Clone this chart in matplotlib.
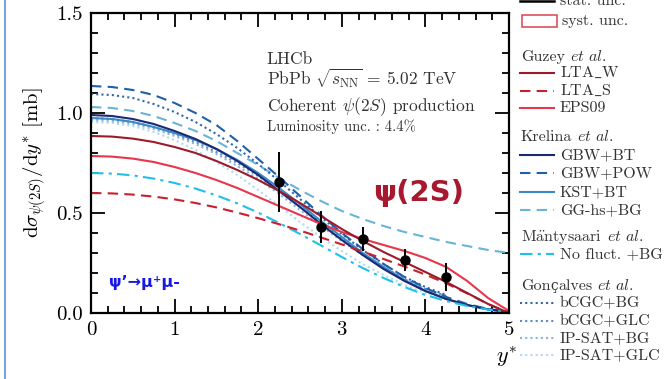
import numpy as np
import matplotlib
matplotlib.use("Agg")
import matplotlib.pyplot as plt
from matplotlib.ticker import FixedLocator, FixedFormatter, MultipleLocator
from matplotlib.patches import Rectangle
from matplotlib.lines import Line2D

plt.rcParams['font.family'] = ['cmr10', 'DejaVu Serif']
plt.rcParams['mathtext.fontset'] = 'cm'
plt.rcParams['axes.formatter.use_mathtext'] = True

# ---------------- data ----------------
y_grid = [0.0, 0.25, 0.5, 0.75, 1.0, 1.25, 1.5, 1.75, 2.0, 2.25, 2.5, 2.75,
          3.0, 3.25, 3.5, 3.75, 4.0, 4.25, 4.5, 4.75, 5.0]
y_gon = y_grid[:18]

lta_w = [0.885, 0.882, 0.872, 0.855, 0.83, 0.80, 0.76, 0.715, 0.665, 0.61, 0.55, 0.485,
         0.42, 0.36, 0.305, 0.255, 0.205, 0.155, 0.10, 0.045, 0.0]
lta_s = [0.60, 0.598, 0.592, 0.582, 0.568, 0.55, 0.528, 0.502, 0.474, 0.444, 0.412, 0.378,
         0.343, 0.307, 0.27, 0.232, 0.192, 0.148, 0.098, 0.045, 0.0]
eps09 = [0.785, 0.782, 0.772, 0.755, 0.73, 0.70, 0.665, 0.625, 0.58, 0.535, 0.49, 0.445,
         0.405, 0.37, 0.34, 0.31, 0.275, 0.23, 0.16, 0.075, 0.01]
gbw_bt = [0.99, 0.985, 0.97, 0.945, 0.91, 0.87, 0.82, 0.76, 0.69, 0.61, 0.53, 0.445,
          0.365, 0.29, 0.22, 0.16, 0.11, 0.07, 0.04, 0.018, 0.005]
gbw_pow = [1.135, 1.13, 1.115, 1.09, 1.05, 1.0, 0.94, 0.86, 0.77, 0.68, 0.585, 0.49,
           0.40, 0.32, 0.245, 0.18, 0.125, 0.08, 0.045, 0.02, 0.005]
kst_bt = [0.975, 0.97, 0.955, 0.93, 0.90, 0.865, 0.82, 0.765, 0.70, 0.625, 0.545, 0.46,
          0.38, 0.30, 0.23, 0.165, 0.11, 0.07, 0.04, 0.018, 0.005]
gghs_bg = [1.03, 1.025, 1.01, 0.985, 0.95, 0.91, 0.86, 0.80, 0.74, 0.675, 0.615, 0.56,
           0.51, 0.47, 0.435, 0.405, 0.38, 0.355, 0.335, 0.315, 0.30]
nofluct = [0.70, 0.697, 0.688, 0.672, 0.65, 0.622, 0.588, 0.548, 0.502, 0.45, 0.395, 0.338,
           0.28, 0.225, 0.175, 0.13, 0.09, 0.06, 0.035, 0.017, 0.005]
bcgc_bg = [1.095, 1.09, 1.075, 1.045, 1.005, 0.955, 0.895, 0.825, 0.745, 0.66, 0.57, 0.48,
           0.395, 0.315, 0.245, 0.18, 0.13, 0.09]
bcgc_glc = [0.975, 0.97, 0.955, 0.93, 0.895, 0.855, 0.805, 0.75, 0.685, 0.61, 0.53, 0.45,
            0.37, 0.295, 0.23, 0.17, 0.12, 0.085]
ipsat_bg = [0.965, 0.96, 0.945, 0.92, 0.885, 0.845, 0.795, 0.735, 0.67, 0.595, 0.515, 0.435,
            0.36, 0.29, 0.225, 0.165, 0.12, 0.085]
ipsat_glc = [0.955, 0.95, 0.935, 0.905, 0.865, 0.815, 0.755, 0.69, 0.615, 0.535, 0.455, 0.38,
             0.31, 0.245, 0.19, 0.14, 0.10, 0.07]

data_y = [2.25, 2.75, 3.25, 3.75, 4.25]
data_val = [0.655, 0.43, 0.37, 0.265, 0.18]
data_err = [0.15, 0.08, 0.06, 0.055, 0.07]

x_ticks = [0, 1, 2, 3, 4, 5]
x_ticklabels = ['0', '1', '2', '3', '4', '5']
y_ticks = [0.0, 0.5, 1.0, 1.5]
y_ticklabels = ['0.0', '0.5', '1.0', '1.5']

# ---------------- styles ----------------
C_LTAW = '#9b1b2a'
C_LTAS = '#c8202e'
C_EPS = '#e8364a'
C_GBWBT = '#1b2a72'
C_GBWPOW = '#2060a8'
C_KST = '#3a88c8'
C_GGHS = '#6ab4d8'
C_NOFL = '#20c0e8'
C_G1 = '#3565aa'
C_G2 = '#5a8cc8'
C_G3 = '#86b6e2'
C_G4 = '#b0daf0'

W, H = 664, 379
fig = plt.figure(figsize=(W / 100, H / 100), dpi=100)
ax = fig.add_axes([91 / W, 66 / H, 418 / W, 300 / H])

lw = 1.5
series = [
    (y_grid, gghs_bg, C_GGHS, (0, (5, 3))),
    (y_gon, ipsat_glc, C_G4, (0, (1, 1.5))),
    (y_gon, ipsat_bg, C_G3, (0, (1, 1.5))),
    (y_gon, bcgc_glc, C_G2, (0, (1, 1.5))),
    (y_gon, bcgc_bg, C_G1, (0, (1, 1.5))),
    (y_grid, gbw_pow, C_GBWPOW, (0, (5, 3))),
    (y_grid, kst_bt, C_KST, '-'),
    (y_grid, gbw_bt, C_GBWBT, '-'),
    (y_grid, nofluct, C_NOFL, (0, (6, 2.5, 1.5, 2.5))),
    (y_grid, lta_s, C_LTAS, (0, (5, 3))),
    (y_grid, eps09, C_EPS, '-'),
    (y_grid, lta_w, C_LTAW, '-'),
]
for xs, ys, c, ls in series:
    ax.plot(xs, ys, color=c, lw=lw, ls=ls, zorder=2)

ax.errorbar(data_y, data_val, yerr=data_err, fmt='o', color='black', ms=6.5,
            elinewidth=1.4, capsize=0, zorder=5)

ax.set_xlim(0, 5)
ax.set_ylim(0, 1.5)
ax.xaxis.set_major_locator(FixedLocator(x_ticks))
ax.xaxis.set_major_formatter(FixedFormatter(x_ticklabels))
ax.yaxis.set_major_locator(FixedLocator(y_ticks))
ax.yaxis.set_major_formatter(FixedFormatter(y_ticklabels))
ax.xaxis.set_minor_locator(MultipleLocator(0.2))
ax.yaxis.set_minor_locator(MultipleLocator(0.1))
ax.tick_params(which='both', direction='in', top=True, right=True, width=1.3)
ax.tick_params(which='major', length=10, labelsize=15, pad=6)
ax.tick_params(which='minor', length=5)
for s in ax.spines.values():
    s.set_linewidth(1.6)

ax.set_ylabel(r'd$\sigma_{\psi(2S)}$/d$y^{*}$ [mb]', fontsize=15, labelpad=6)
ax.text(1.02, -0.105, r'$y^{*}$', transform=ax.transAxes, ha='right', va='top', fontsize=16)

# annotation texts
tc = '#333333'
ax.text(2.1, 1.245, 'LHCb', fontsize=12.5, color=tc, va='baseline')
ax.text(2.1, 1.14, r'PbPb $\sqrt{s_{\mathrm{NN}}}$ = 5.02 TeV', fontsize=12.5, color=tc, va='baseline')
ax.text(2.1, 1.007, r'Coherent $\psi(2S)$ production', fontsize=12.5, color=tc, va='baseline')
ax.text(2.1, 0.912, 'Luminosity unc. : 4.4%', fontsize=10.5, color=tc, va='baseline')

ax.text(3.92, 0.60, 'ψ(2S)', fontsize=21, fontweight='bold', color='#a6192e',
        family='DejaVu Sans', ha='center', va='center')
ax.text(0.22, 0.15, 'ψ’→μ⁺μ-', fontsize=11.5, fontweight='bold', color='#1818e6',
        family='DejaVu Sans', ha='left', va='center')

# ---------------- legend (pixel coords overlay) ----------------
lax = fig.add_axes([0, 0, 1, 1], zorder=-1)
lax.set_xlim(0, W)
lax.set_ylim(H, 0)
lax.axis('off')

renderer = fig.canvas.get_renderer()

gx0, gx1, tx, hx = 520, 554, 560, 521
fs_leg = 11.5


def pieces(x, y, parts):
    """Draw consecutive text pieces (text, family, size) starting at pixel x."""
    for txt, fam, fs in parts:
        kw = dict(fontsize=fs, va='baseline', color=tc)
        if fam is not None:
            kw['family'] = fam
        t = lax.text(x, y, txt, **kw)
        bb = t.get_window_extent(renderer=renderer)
        x += bb.width


lax.plot([gx0, gx1], [1, 1], color='black', lw=1.8)
lax.text(tx, 5, 'stat. unc.', fontsize=fs_leg, va='baseline', color=tc)
lax.add_patch(Rectangle((522, 15), 35, 12, fill=False, edgecolor='#e05060', lw=1.2))
lax.text(tx + 2, 25, 'syst. unc.', fontsize=fs_leg, va='baseline', color=tc)


def header(y, parts):
    pieces(hx, y + 4, parts + [(r' $\mathit{et\ al.}$', None, fs_leg)])


def entry(y, label, c, ls):
    lax.add_line(Line2D([gx0, gx1], [y, y], color=c, lw=lw, ls=ls))
    lax.text(tx, y + 4, label, fontsize=fs_leg, va='baseline', color=tc)


header(57, [('Guzey', None, fs_leg)])
entry(73, r'LTA$\_$W', C_LTAW, '-')
entry(91, r'LTA$\_$S', C_LTAS, (0, (5, 3)))
entry(108, 'EPS09', C_EPS, '-')
header(137, [('Krelina', None, fs_leg)])
entry(155, 'GBW+BT', C_GBWBT, '-')
entry(173, 'GBW+POW', C_GBWPOW, (0, (5, 3)))
entry(192, 'KST+BT', C_KST, '-')
entry(210, 'GG-hs+BG', C_GGHS, (0, (5, 3)))
header(237, [(r'M$\ddot{\mathrm{a}}$ntysaari', None, fs_leg)])
entry(254, 'No fluct. +BG', C_NOFL, (0, (6, 2.5, 1.5, 2.5)))
header(286, [('Gon', None, fs_leg), ('ç', 'DejaVu Serif', 9.8), ('alves', None, fs_leg)])
entry(303, 'bCGC+BG', C_G1, (0, (1, 1.5)))
entry(321, 'bCGC+GLC', C_G2, (0, (1, 1.5)))
entry(338, 'IP-SAT+BG', C_G3, (0, (1, 1.5)))
entry(355, 'IP-SAT+GLC', C_G4, (0, (1, 1.5)))

# screenshot border line at left
lax.plot([5, 5], [0, H], color='#7aa0e8', lw=1.5)

fig.savefig('out.png', dpi=100)
